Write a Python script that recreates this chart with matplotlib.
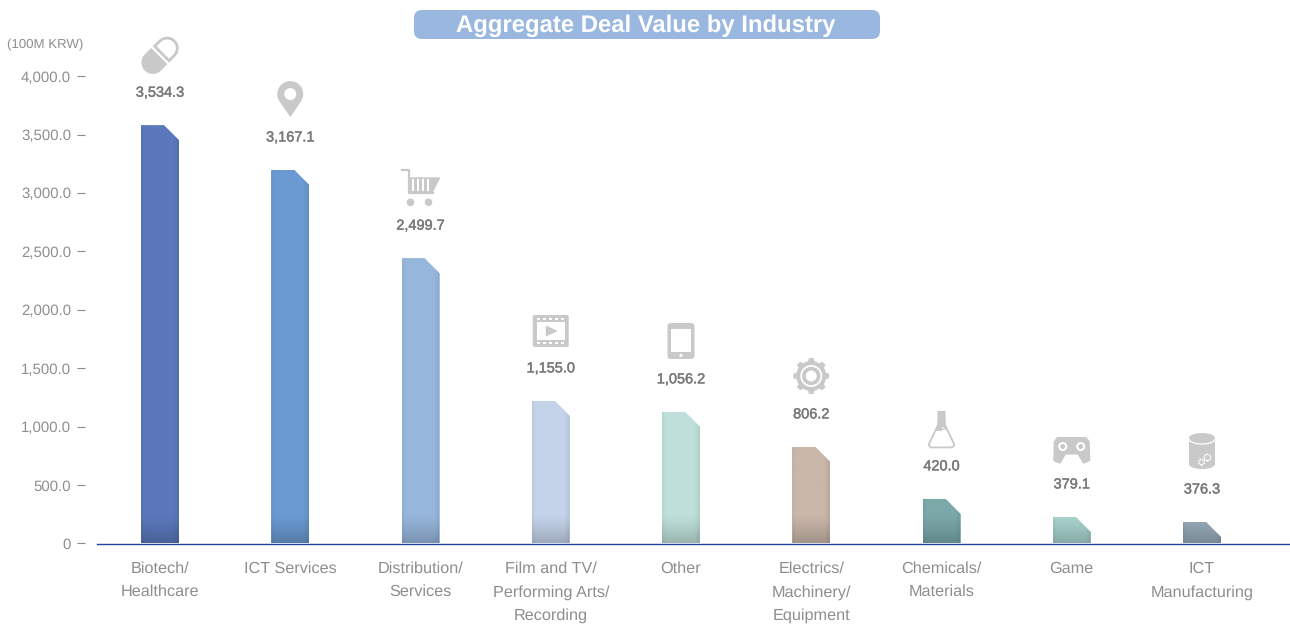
import numpy as np
import matplotlib
matplotlib.use("Agg")
import matplotlib.pyplot as plt
import matplotlib.patheffects as pe
from matplotlib.patches import Polygon, Circle, Ellipse, FancyBboxPatch, Rectangle
from matplotlib.lines import Line2D
from matplotlib.transforms import Affine2D
from matplotlib.colors import to_rgb

# ---------- data ----------
categories = ["Biotech/\nHealthcare", "ICT Services", "Distribution/\nServices",
              "Film and TV/\nPerforming Arts/\nRecording", "Other",
              "Electrics/\nMachinery/\nEquipment", "Chemicals/\nMaterials", "Game",
              "ICT\nManufacturing"]
value_labels = ["3,534.3", "3,167.1", "2,499.7", "1,155.0", "1,056.2",
                "806.2", "420.0", "379.1", "376.3"]
# bar heights as drawn in the picture (they do not always agree with the printed labels)
bar_heights = [3580, 3197, 2441, 1219, 1125, 825, 380, 225, 182]
bar_colors = ["#5a78bb", "#6a9ad2", "#97b6dc", "#c4d3ea", "#bfe0da",
              "#c9b7a9", "#7ba9aa", "#aad5d0", "#98adbb"]
y_ticks = [0, 500, 1000, 1500, 2000, 2500, 3000, 3500, 4000]
y_tick_labels = ["0", "500.0", "1,000.0", "1,500.0", "2,000.0", "2,500.0",
                 "3,000.0", "3,500.0", "4,000.0"]
title_text = "Aggregate Deal Value by Industry"
unit_text = "(100M KRW)"

plt.rcParams["font.family"] = ["Liberation Sans", "DejaVu Sans"]
plt.rcParams["text.hinting"] = "no_hinting"
W, H = 1290, 626
fig = plt.figure(figsize=(W / 100, H / 100), dpi=100, facecolor="white")
AX_L, AX_R, AX_T, AX_B = 97, 1290, 76.3, 543.3
ax = fig.add_axes([AX_L / W, 1 - AX_B / H, (AX_R - AX_L) / W, (AX_B - AX_T) / H])
STEP = 130.25
BAR_PX = 38
x_pos = np.arange(len(categories))
xlim = ((AX_L - 160) / STEP, (AX_R - 160) / STEP)
bw = BAR_PX / STEP
px_y = 4000 / (AX_B - AX_T)
px_x = 1 / STEP

GRAY = "#c9c9c9"
TXT = "#8e8e8e"

# ---------- bars ----------
bars = ax.bar(x_pos, bar_heights, width=bw, color=bar_colors, linewidth=0, zorder=2)
for x, v, c, rect in zip(x_pos, bar_heights, bar_colors, bars):
    l, r = x - bw / 2, x + bw / 2
    chx, chy = 15 * px_x, 15 * px_y
    clip = Polygon([(l, 0), (l, v), (r - chx, v), (r, v - chy), (r, 0)],
                   closed=True, transform=ax.transData)
    rect.set_clip_path(clip)
    h_px = int(round(v / px_y))
    base = np.array(to_rgb(c))
    u = (np.arange(BAR_PX) + 0.5) / BAR_PX
    col = 1 - 0.05 * np.clip((0.10 - u) / 0.10, 0, 1) - 0.08 * np.clip((u - 0.85) / 0.15, 0, 1)
    row_from_bottom = np.arange(h_px)[::-1] + 0.5
    row = 1 - 0.2 * np.clip((28 - row_from_bottom) / 28, 0, 1) ** 1.2
    shade = np.outer(row, col)[..., None]
    img = np.clip(base[None, None, :] * shade, 0, 1)
    im = ax.imshow(img, extent=(l, r, 0, v), aspect="auto", zorder=3, interpolation="bilinear")
    clip2 = Polygon(clip.get_xy(), closed=True, transform=ax.transData)
    im.set_clip_path(clip2)

ax.set_xlim(*xlim)
ax.set_ylim(0, 4000)

# ---------- axes ----------
for s in ("top", "right"):
    ax.spines[s].set_visible(False)
ax.spines["left"].set_visible(False)
ax.spines["left"].set_position(("outward", 12 * 0.72))
ax.spines["bottom"].set_position(("outward", 0.5))
ax.spines["bottom"].set_color("#23429a")
ax.spines["bottom"].set_linewidth(1.0)
ax.spines["bottom"].set_zorder(5)
ax.set_yticks(y_ticks)
ax.set_yticklabels(y_tick_labels)
ax.tick_params(axis="y", length=8 * 0.72, width=0.8, color="#8a8a8a", pad=6 * 0.72,
               labelsize=15 * 0.72, labelcolor=TXT)
ax.set_xticks(x_pos)
ax.set_xticklabels(categories, linespacing=1.75)
ax.tick_params(axis="x", length=0, pad=17 * 0.72, labelsize=16.3 * 0.72, labelcolor=TXT)
ax.patch.set_alpha(0)

fig.text(83.5 / W, 1 - 45 / H, unit_text, ha="right", va="center", color=TXT, fontsize=13.2 * 0.72)

# ---------- value labels ----------
for x, v, t in zip(x_pos, bar_heights, value_labels):
    ax.annotate(t, (x, v), xytext=(0, 32.5), textcoords="offset pixels", ha="center", va="center",
                color="#7b7b7b", fontsize=14.5 * 0.72, annotation_clip=False,
                path_effects=[pe.withStroke(linewidth=0.35, foreground="#7b7b7b")])

# ---------- title ----------
fig.add_artist(FancyBboxPatch((414 + 8, H - 39 + 8), 466 - 16, 29 - 16,
                              boxstyle="round,pad=8,rounding_size=8", linewidth=0,
                              facecolor="#9ab8df", transform=Affine2D()))
fig.text(645.5 / W, 1 - 25.5 / H, title_text, ha="center", va="center", color="white",
         fontweight="bold", fontsize=23.9 * 0.72)

# ---------- icons (local pixel coordinates around a centre, y up) ----------
def arc(cx, cy, r, a0, a1, n=24):
    a = np.radians(np.linspace(a0, a1, n))
    return np.column_stack([cx + r * np.cos(a), cy + r * np.sin(a)])

def icon_pill(T):
    d, r = 10.0, 11.5
    R = Affine2D().rotate_deg(45) + T
    left = np.vstack([arc(-d, 0, r, 90, 270), [(-1, -r), (-1, r)]])
    fig.add_artist(Polygon(left, closed=True, facecolor=GRAY, edgecolor="none", transform=R))
    right = np.vstack([arc(d, 0, r - 1.3, -90, 90), [(2.6, r - 1.3), (2.6, -r + 1.3)]])
    fig.add_artist(Polygon(right, closed=True, facecolor="white", edgecolor=GRAY, linewidth=2, transform=R))

def icon_pin(T):
    pts = np.vstack([arc(0, 5, 13, -35, 215), [(0, -18)]])
    fig.add_artist(Polygon(pts, closed=True, facecolor=GRAY, edgecolor="none", transform=T))
    fig.add_artist(Circle((0, 5), 6, facecolor="white", edgecolor="none", transform=T))

def icon_cart(T):
    fig.add_artist(Line2D([-19, -12, -12, 12], [17, 17, -6, -6], color=GRAY, lw=1.6, transform=T))
    fig.add_artist(Polygon([(-12, 10), (20, 10), (12, -6), (-12, -6)], closed=True,
                           facecolor=GRAY, edgecolor="none", transform=T))
    for sx in (-8.5, -3.5, 1.5, 6.5):
        fig.add_artist(Rectangle((sx, -3.5), 2.2, 12, facecolor="white", edgecolor="none", transform=T))
    for wx in (-10, 8):
        fig.add_artist(Circle((wx, -15), 3.8, facecolor=GRAY, edgecolor="none", transform=T))

def icon_film(T):
    fig.add_artist(FancyBboxPatch((-16, -14), 32, 28, boxstyle="round,pad=2,rounding_size=2",
                                  facecolor=GRAY, edgecolor="none", transform=T))
    fig.add_artist(Rectangle((-14, -9), 28, 18, facecolor="white", edgecolor="none", transform=T))
    for hx in (-12, -6, 0, 6, 12):
        for hy in (10.7, -13.3):
            fig.add_artist(Rectangle((hx - 1.6, hy), 3.2, 2.6, facecolor="white", edgecolor="none", transform=T))
    fig.add_artist(Polygon([(-5, 5.5), (7, 0), (-5, -5.5)], closed=True, facecolor=GRAY,
                           edgecolor="none", transform=T))

def icon_tablet(T):
    fig.add_artist(FancyBboxPatch((-11, -15.5), 22, 31, boxstyle="round,pad=2.5,rounding_size=3",
                                  facecolor=GRAY, edgecolor="none", transform=T))
    fig.add_artist(Rectangle((-10, -11), 20, 23, facecolor="white", edgecolor="none", transform=T))
    fig.add_artist(Circle((0, -14.5), 1.6, facecolor="white", edgecolor="none", transform=T))

def icon_gear(T):
    n = 8
    w = 360 / n
    pts = []
    for i in range(n):
        a = 90 + i * w
        pts += [arc(0, 0, 15, a - 0.5 * w, a - 0.26 * w, 4),
                arc(0, 0, 18, a - 0.17 * w, a + 0.17 * w, 4),
                arc(0, 0, 15, a + 0.26 * w, a + 0.5 * w, 4)]
    fig.add_artist(Polygon(np.vstack(pts), closed=True, facecolor=GRAY, edgecolor="none", transform=T))
    fig.add_artist(Circle((0, 0), 11, facecolor="white", edgecolor="none", transform=T))
    fig.add_artist(Circle((0, 0), 9.2, facecolor=GRAY, edgecolor="none", transform=T))
    fig.add_artist(Circle((0, 0), 5.5, facecolor="white", edgecolor="none", transform=T))

def icon_flask(T):
    body = [(-3, 10), (3, 10), (3, 5), (12.5, -15), (12.5, -17), (10.5, -18.5), (-10.5, -18.5), (-12.5, -17), (-12.5, -15), (-3, 5)]
    fig.add_artist(Polygon(body, closed=True, facecolor="white", edgecolor=GRAY, linewidth=1.3,
                           joinstyle="round", transform=T))
    fig.add_artist(Polygon([(-4, 18), (4, 18), (4, 4), (7, -3), (3, 0), (0, -2), (-6, -2), (-4, 4)],
                           closed=True, facecolor=GRAY, edgecolor="none", transform=T))
    fig.add_artist(Circle((1.2, 1), 0.9, facecolor="white", edgecolor="none", transform=T))

def icon_game(T):
    pts = [(-14, 11.5), (14, 11.5), (16.5, 8), (17, -10), (12, -12), (7, -3), (-7, -3), (-12, -12), (-17, -10), (-16.5, 8)]
    fig.add_artist(Polygon(pts, closed=True, facecolor=GRAY, edgecolor=GRAY, linewidth=2.2,
                           joinstyle="round", transform=T))
    for ex in (-9, 9):
        fig.add_artist(Circle((ex, 3.5), 4.5, facecolor="white", edgecolor="none", transform=T))
        fig.add_artist(Circle((ex, 3.5), 2.5, facecolor=GRAY, edgecolor="none", transform=T))

def icon_db(T):
    fig.add_artist(Rectangle((-13, -13), 26, 26, facecolor=GRAY, edgecolor="none", transform=T))
    fig.add_artist(Ellipse((0, -13), 26, 10, facecolor=GRAY, edgecolor="none", transform=T))
    fig.add_artist(Ellipse((0, 13), 26, 10, facecolor=GRAY, edgecolor="none", transform=T))
    a = arc(0, 0, 1, 180, 360)
    fig.add_artist(Line2D(a[:, 0] * 13, 12 + a[:, 1] * 5, color="white", lw=0.9, transform=T))
    for gx, gy, gr in ((5.5, -6.5, 3.2), (-0.5, -11, 2.8)):
        fig.add_artist(Circle((gx, gy), gr, facecolor="none", edgecolor="white", linewidth=1.2,
                              linestyle=(0, (0.9, 0.5)), transform=T))

icons = [icon_pill, icon_pin, icon_cart, icon_film, icon_tablet, icon_gear, icon_flask, icon_game, icon_db]
icon_gap = [70, 71, 71, 70, 71, 71, 70, 67, 71]
for x, v, fn, g in zip(x_pos, bar_heights, icons, icon_gap):
    dx, dy = ax.transData.transform((x, v))
    fn(Affine2D().translate(dx, dy + g))

fig.savefig("out.png", dpi=100, facecolor="white")
